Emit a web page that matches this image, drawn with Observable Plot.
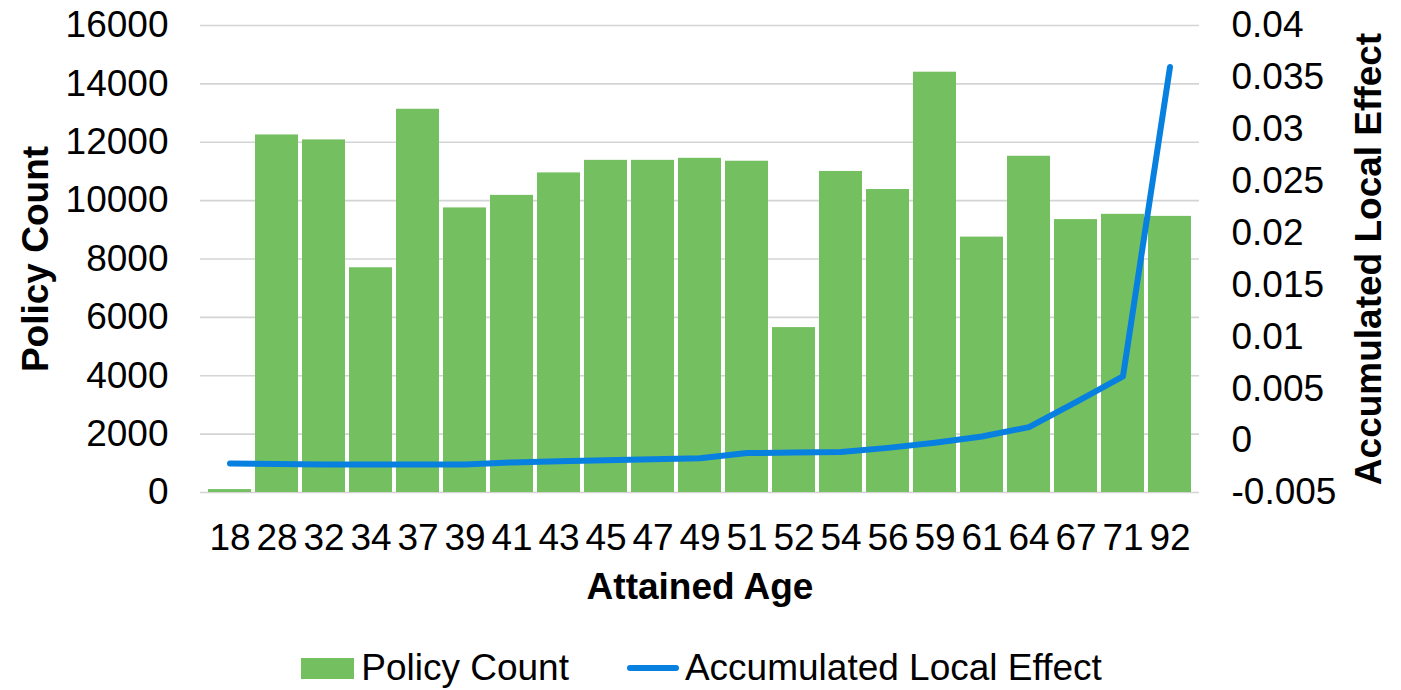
<!DOCTYPE html>
<html>
<head>
<meta charset="utf-8">
<script src="https://cdn.jsdelivr.net/npm/d3@7"></script>
<script src="https://cdn.jsdelivr.net/npm/@observablehq/plot@0.6"></script>
<style>
  html, body { margin: 0; padding: 0; background: #fff; }
  body { width: 1401px; height: 690px; overflow: hidden; font-family: "Liberation Sans", Arial, sans-serif; color: #000; }
  #chart svg { display: block; }
  .legend { display: flex; justify-content: center; align-items: center; font-size: 37px; height: 70px; margin-top: 13px; padding-left: 2px; }
  .legend .item { display: flex; align-items: center; }
  .legend .swatch { width: 53px; height: 21px; background: #74BF60; margin-right: 7px; }
  .legend .lineSwatch { width: 52px; height: 6px; border-radius: 3px; background: #0880DF; margin-right: 6px; }
  .legend .gap { width: 58px; }
</style>
</head>
<body>
<div id="chart"></div>
<div class="legend">
  <div class="item"><div class="swatch"></div><span>Policy Count</span></div>
  <div class="gap"></div>
  <div class="item"><div class="lineSwatch"></div><span>Accumulated Local Effect</span></div>
</div>
<script>
// Attained age bins (category order along x)
const ages = ["18", "28", "32", "34", "37", "39", "41", "43", "45", "47", "49", "51", "52", "54", "56", "59", "61", "64", "67", "71", "92"];
// Policy count per bin (left axis)
const policyCount = [100, 12250, 12080, 7700, 13130, 9750, 10180, 10950, 11380, 11380, 11450, 11350, 5650, 11000, 10380, 14400, 8750, 11520, 9350, 9530, 9460];
// Accumulated local effect per bin (right axis)
const ale = [-0.0022, -0.00225, -0.0023, -0.0023, -0.0023, -0.0023, -0.0021, -0.002, -0.0019, -0.0018, -0.0017, -0.0012, -0.00115, -0.0011, -0.0007, -0.0002, 0.0004, 0.0013, 0.0037, 0.0062, 0.036];
// Tick values for both axes
const leftTicks = [0, 2000, 4000, 6000, 8000, 10000, 12000, 14000, 16000];
const rightTicks = [-0.005, 0, 0.005, 0.01, 0.015, 0.02, 0.025, 0.03, 0.035, 0.04];

const rows = ages.map((a, i) => ({age: a, count: policyCount[i], ale: ale[i]}));

// Map the right-axis domain onto the left (count) scale
const leftMax = 16000, rMin = -0.005, rMax = 0.04;
const toLeft = v => (v - rMin) / (rMax - rMin) * leftMax;
const toRight = d => d / leftMax * (rMax - rMin) + rMin;

const chart = Plot.plot({
  width: 1401,
  height: 620,
  marginLeft: 200,
  marginRight: 202,
  marginTop: 25,
  marginBottom: 128,
  style: {fontFamily: "'Liberation Sans', Arial, sans-serif", fontSize: "37px", color: "#000", background: "#fff", overflow: "visible"},
  x: {domain: ages, padding: 0},
  y: {domain: [0, leftMax]},
  marks: [
    Plot.ruleY(leftTicks, {stroke: "#D4D4D4", strokeWidth: 1.6}),
    Plot.barY(rows, {x: "age", y: "count", fill: "#74BF60", insetLeft: 2, insetRight: 2}),
    Plot.line(rows, {x: "age", y: d => toLeft(d.ale), stroke: "#0880DF", strokeWidth: 6, strokeLinecap: "round", strokeLinejoin: "round"}),
    Plot.axisX({tickSize: 0, tickPadding: 31, label: null, fontSize: 37}),
    Plot.axisY({anchor: "left", ticks: leftTicks, tickSize: 0, tickPadding: 32, label: null, tickFormat: d => String(d), fontSize: 37}),
    Plot.axisY({anchor: "right", ticks: rightTicks.map(toLeft), tickSize: 0, tickPadding: 32, label: null, tickFormat: d => String(+toRight(d).toFixed(3)), fontSize: 37}),
    Plot.text(["Policy Count"], {frameAnchor: "left", textAnchor: "middle", lineAnchor: "middle", dx: -164, rotate: -90, fontWeight: "bold", fontSize: 37, fill: "#000"}),
    Plot.text(["Accumulated Local Effect"], {frameAnchor: "right", textAnchor: "middle", lineAnchor: "middle", dx: 170, rotate: -90, fontWeight: "bold", fontSize: 37, fill: "#000"}),
    Plot.text(["Attained Age"], {frameAnchor: "bottom", lineAnchor: "middle", dy: 95, fontWeight: "bold", fontSize: 37, fill: "#000"})
  ]
});
document.getElementById("chart").appendChild(chart);
</script>
</body>
</html>
